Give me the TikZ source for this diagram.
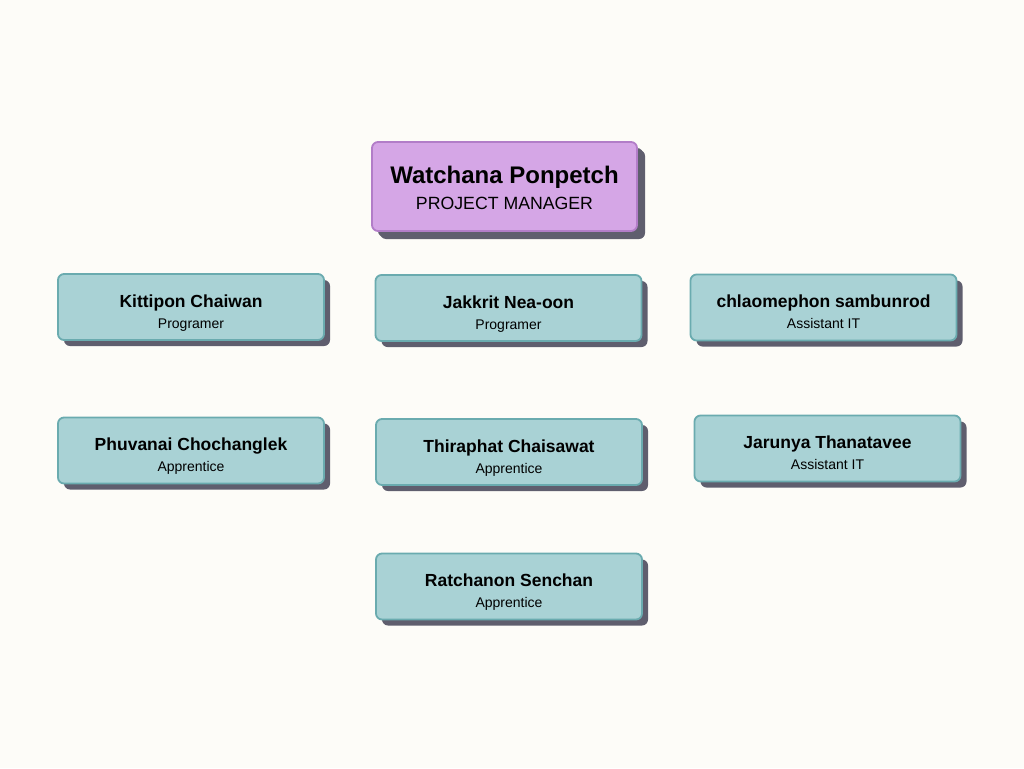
\documentclass[tikz,border=0pt]{standalone}
\usepackage{fontspec}
\setmainfont{Liberation Sans}
\usetikzlibrary{shadows}
\definecolor{paper}{HTML}{FDFCF8}
\definecolor{tealfill}{HTML}{A9D2D5}
\definecolor{tealline}{HTML}{6AABAF}
\definecolor{lilacfill}{HTML}{D5A6E6}
\definecolor{lilacline}{HTML}{B27DC8}
\definecolor{shade}{HTML}{5F5E6E}
\tikzset{
  card/.style={draw=tealline, fill=tealfill, line width=1.8pt, rounded corners=6pt,
    minimum width=266pt, minimum height=66pt, align=center, inner sep=0pt,
    font=\fontsize{14}{21}\selectfont,
    drop shadow={shadow xshift=6pt, shadow yshift=-6pt, fill=shade, opacity=1}},
  bosscard/.style={card, draw=lilacline, fill=lilacfill, minimum width=265pt, minimum height=89pt,
    font=\fontsize{17.7}{26}\selectfont,
    drop shadow={shadow xshift=8pt, shadow yshift=-8pt, fill=shade, opacity=1}}
}
\newcommand{\staff}[2]{\rule{0pt}{24pt}{\fontsize{17.5}{20}\selectfont\bfseries #1}\\#2\rule[-3pt]{0pt}{3pt}}
\begin{document}
\begin{tikzpicture}[x=1pt, y=-1pt]
			%%%%% START %%%%%
			
			\fill[paper] (0, 0) rectangle (1024, 768);
			\useasboundingbox (0, 0) rectangle (1024, 768);
			
			\node[bosscard] (watchana) at (504.5, 186.5) {\rule{0pt}{22.6pt}{\fontsize{24}{27}\selectfont\bfseries Watchana Ponpetch}\\PROJECT MANAGER\rule[-3pt]{0pt}{3pt}};
			
			\node[card] (kittipon) at (191, 307) {\staff{Kittipon Chaiwan}{Programer}};
			\node[card] (jakkrit) at (508.5, 308) {\staff{Jakkrit Nea-oon}{Programer}};
			\node[card] (chlaomephon) at (823.5, 307.5) {\staff{chlaomephon sambunrod}{Assistant IT}};
			
			\node[card] (phuvanai) at (191, 450.5) {\staff{Phuvanai Chochanglek}{Apprentice}};
			\node[card] (thiraphat) at (509, 452) {\staff{Thiraphat Chaisawat}{Apprentice}};
			\node[card] (jarunya) at (827.5, 448.5) {\staff{Jarunya Thanatavee}{Assistant IT}};
			
			\node[card] (ratchanon) at (509, 586.5) {\staff{Ratchanon Senchan}{Apprentice}};
			
			%%%%% END %%%%%
		\end{tikzpicture}
\end{document}
